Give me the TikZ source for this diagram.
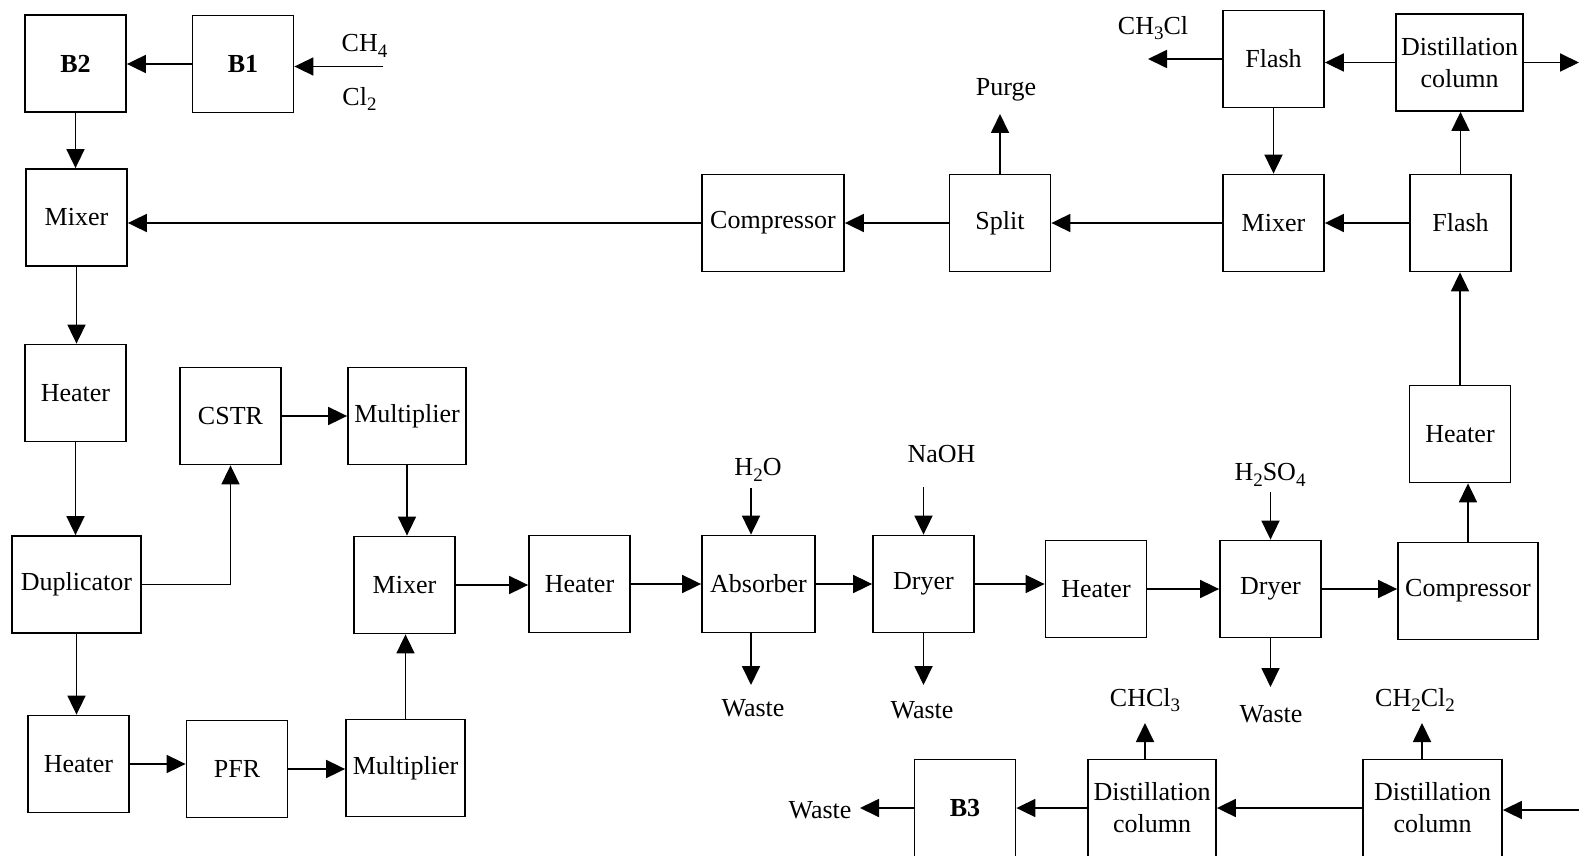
\documentclass[tikz,border=0pt]{standalone}
\usepackage{fontspec}
\setmainfont{Liberation Serif}
\usetikzlibrary{arrows.meta}
\newcommand\sbs[1]{\raisebox{-0.45ex}{\fontsize{19}{19}\selectfont #1}}
\tikzset{
	unit/.style={draw, line width=1.8pt, minimum width=101pt, minimum height=97pt, inner sep=1pt, align=center},
	flow/.style={line width=1.8pt, -{Triangle[length=19pt,width=18pt]}},
	stream/.style={inner sep=0pt},
}
\begin{document}
\begin{tikzpicture}[x=1pt,y=-1pt,font=\fontsize{26}{32}\selectfont]
	\useasboundingbox (0,0) rectangle (1579,856);
	% units
	\node[unit] (b2) at (75.5,63.5) {\textbf{B2}};
	\node[unit] (b1) at (243,64) {\textbf{B1}};
	\node[unit] (mixa) at (76.5,217.5) {Mixer};
	\node[unit] (heata) at (75.5,393) {Heater};
	\node[unit,minimum width=129pt] (dup) at (76.5,584.5) {Duplicator};
	\node[unit] (heatb) at (78.5,764) {Heater};
	\node[unit] (cstr) at (230.5,416) {CSTR};
	\node[unit,minimum width=118pt] (multa) at (407,416) {Multiplier};
	\node[unit] (mixb) at (404.5,585) {Mixer};
	\node[unit] (pfr) at (237,769) {PFR};
	\node[unit,minimum width=119pt] (multb) at (405.5,768) {Multiplier};
	\node[unit] (heatc) at (579.5,584) {Heater};
	\node[unit,minimum width=113pt] (abs) at (758.5,584) {Absorber};
	\node[unit] (drya) at (923.5,584) {Dryer};
	\node[unit] (heatd) at (1096,589) {Heater};
	\node[unit] (dryb) at (1270.5,589) {Dryer};
	\node[unit,minimum width=140pt] (compb) at (1468,591) {Compressor};
	\node[unit] (heate) at (1460,434) {Heater};
	\node[unit] (flashb) at (1460.5,223) {Flash};
	\node[unit] (mixc) at (1273.5,223) {Mixer};
	\node[unit] (split) at (1000,223) {Split};
	\node[unit,minimum width=142pt] (compa) at (773,223) {Compressor};
	\node[unit] (flasha) at (1273.5,59) {Flash};
	\node[unit,minimum width=127pt] (dista) at (1459.5,62.5) {Distillation\\column};
	\node[unit,minimum width=139pt] (distb) at (1432.5,808) {Distillation\\column};
	\node[unit,minimum width=128pt] (distc) at (1152,808) {Distillation\\column};
	\node[unit] (b3) at (965,808) {\textbf{B3}};
	% streams in and out
	\node[stream] (ch4) at (364.5,46) {CH\sbs{4}};
	\node[stream] (cl2) at (359.5,98.7) {Cl\sbs{2}};
	\node[stream] (ch3cl) at (1153,28) {CH\sbs{3}Cl};
	\node[stream] (purge) at (1006,90) {Purge};
	\node[stream] (h2o) at (758,470) {H\sbs{2}O};
	\node[stream] (naoh) at (941.5,454) {NaOH};
	\node[stream] (h2so4) at (1270,475) {H\sbs{2}SO\sbs{4}};
	\node[stream] (wastea) at (753,708) {Waste};
	\node[stream] (wasteb) at (922,710) {Waste};
	\node[stream] (wastec) at (1271,714) {Waste};
	\node[stream] (wasted) at (820,810) {Waste};
	\node[stream] (chcl3) at (1145,700) {CHCl\sbs{3}};
	\node[stream] (ch2cl2) at (1415,700) {CH\sbs{2}Cl\sbs{2}};
	\coordinate (feed) at (383,66.5);
	\coordinate (dout) at (1579,62.5);
	\coordinate (bfeed) at (1579,810);
	\coordinate (ch3out) at (1148,59);
	\coordinate (purgeout) at (1000,114);
	\coordinate (h2oin) at (751,488);
	\coordinate (absout) at (751,685);
	\coordinate (naohin) at (923.5,487);
	\coordinate (dryaout) at (923.5,685);
	\coordinate (h2so4in) at (1270.5,492);
	\coordinate (drybout) at (1270.5,687);
	\coordinate (chcl3out) at (1145,723);
	\coordinate (ch2cl2out) at (1422,723);
	\coordinate (b3out) at (860,808);
	% connections
	\draw[flow] (feed) -- (feed -| b1.east);
	\draw[flow] (b1) -- (b1 -| b2.east);
	\draw[flow] (b2) -- (b2 |- mixa.north);
	\draw[flow] (mixa) -- (mixa |- heata.north);
	\draw[flow] (heata) -- (heata |- dup.north);
	\draw[flow] (dup.east) -| (cstr.south);
	\draw[flow] (dup) -- (dup |- heatb.north);
	\draw[flow] (heatb) -- (heatb -| pfr.west);
	\draw[flow] (pfr) -- (pfr -| multb.west);
	\draw[flow] (multb) -- (multb |- mixb.south);
	\draw[flow] (cstr) -- (cstr -| multa.west);
	\draw[flow] (multa) -- (multa |- mixb.north);
	\draw[flow] (mixb) -- (mixb -| heatc.west);
	\draw[flow] (heatc) -- (heatc -| abs.west);
	\draw[flow] (abs) -- (abs -| drya.west);
	\draw[flow] (drya) -- (drya -| heatd.west);
	\draw[flow] (heatd) -- (heatd -| dryb.west);
	\draw[flow] (dryb) -- (dryb -| compb.west);
	\draw[flow] (compb) -- (compb |- heate.south);
	\draw[flow] (heate) -- (heate |- flashb.south);
	\draw[flow] (flashb) -- (flashb |- dista.south);
	\draw[flow] (flashb) -- (flashb -| mixc.east);
	\draw[flow] (dista) -- (dista -| flasha.east);
	\draw[flow] (dista) -- (dout);
	\draw[flow] (flasha) -- (ch3out);
	\draw[flow] (flasha) -- (flasha |- mixc.north);
	\draw[flow] (mixc) -- (mixc -| split.east);
	\draw[flow] (split) -- (purgeout);
	\draw[flow] (split) -- (split -| compa.east);
	\draw[flow] (compa) -- (compa -| mixa.east);
	\draw[flow] (h2oin) -- (h2oin |- abs.north);
	\draw[flow] (absout |- abs.south) -- (absout);
	\draw[flow] (naohin) -- (naohin |- drya.north);
	\draw[flow] (drya) -- (dryaout);
	\draw[flow] (h2so4in) -- (h2so4in |- dryb.north);
	\draw[flow] (dryb) -- (drybout);
	\draw[flow] (bfeed) -- (bfeed -| distb.east);
	\draw[flow] (distb) -- (distb -| distc.east);
	\draw[flow] (chcl3out |- distc.north) -- (chcl3out);
	\draw[flow] (ch2cl2out |- distb.north) -- (ch2cl2out);
	\draw[flow] (distc) -- (distc -| b3.east);
	\draw[flow] (b3) -- (b3out);
\end{tikzpicture}
\end{document}
